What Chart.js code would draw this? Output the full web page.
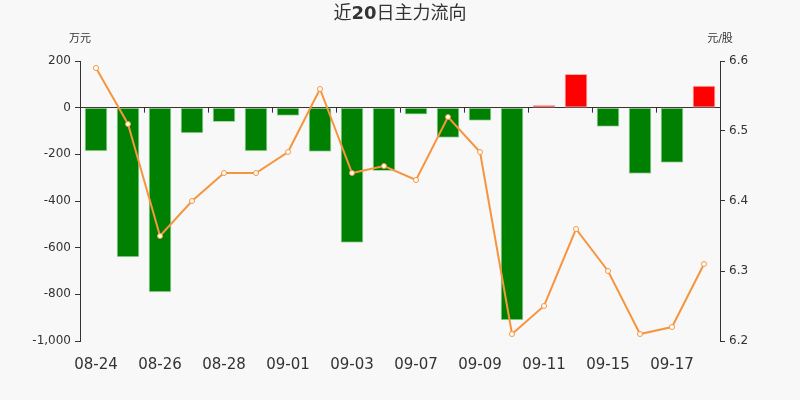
<!DOCTYPE html>
<html>
<head>
<meta charset="utf-8">
<script src="https://cdn.jsdelivr.net/npm/chart.js@4"></script>
<style>
  html, body { margin: 0; padding: 0; background: #f8f8f8; }
  #wrap { width: 800px; height: 400px; position: relative; }
</style>
</head>
<body>
<div id="wrap"><canvas id="c" width="800" height="400"></canvas></div>
<script>
const dates = ["08-24", "08-25", "08-26", "08-27", "08-28", "08-31", "09-01", "09-02", "09-03", "09-04",
  "09-07", "09-08", "09-09", "09-10", "09-11", "09-14", "09-15", "09-16", "09-17", "09-18"];
// 主力净流入 (万元)
const flow = [-185, -640, -790, -108, -60, -185, -33, -188, -578, -270,
  -28, -128, -55, -910, 10, 143, -80, -282, -235, 92];
// 收盘价 (元/股)
const price = [6.59, 6.51, 6.35, 6.40, 6.44, 6.44, 6.47, 6.56, 6.44, 6.45,
  6.43, 6.52, 6.47, 6.21, 6.25, 6.36, 6.30, 6.21, 6.22, 6.31];

const FONT = "'DejaVu Sans', 'Noto Sans CJK SC', sans-serif";
const TXT = "#333";

// 标题、单位、零轴刻度
const extras = {
  id: "extras",
  afterDraw(chart) {
    const ctx = chart.ctx;
    const area = chart.chartArea;
    ctx.save();
    // title with bold "20"
    const parts = [["近", "normal"], ["20", "bold"], ["日主力流向", "normal"]];
    ctx.textBaseline = "middle";
    ctx.fillStyle = TXT;
    let w = 0;
    parts.forEach(p => { ctx.font = p[1] + " 18px " + FONT; w += ctx.measureText(p[0]).width; });
    let x = 400 - w / 2;
    parts.forEach(p => {
      ctx.font = p[1] + " 18px " + FONT;
      ctx.textAlign = "left";
      ctx.fillText(p[0], x, 14);
      x += ctx.measureText(p[0]).width;
    });
    ctx.font = "11px " + FONT;
    ctx.textAlign = "center";
    ctx.fillText("万元", area.left, 39);
    ctx.fillText("元/股", area.right, 39);
    // small ticks on zero axis
    const y0 = chart.scales.y.getPixelForValue(0);
    const step = (area.right - area.left) / dates.length;
    ctx.strokeStyle = TXT;
    ctx.lineWidth = 1;
    for (let i = 2; i < dates.length; i += 2) {
      const px = Math.round(area.left + i * step) + 0.5;
      ctx.beginPath();
      ctx.moveTo(px, y0);
      ctx.lineTo(px, y0 + 5);
      ctx.stroke();
    }
    ctx.restore();
  }
};

new Chart(document.getElementById("c"), {
  data: {
    labels: dates,
    datasets: [
      {
        type: "line",
        label: "价格",
        data: price,
        yAxisID: "y1",
        borderColor: "#f7953f",
        borderWidth: 2,
        tension: 0,
        pointRadius: 2.5,
        pointBackgroundColor: "#fff",
        pointBorderColor: "#f7953f",
        pointBorderWidth: 1,
        order: 1
      },
      {
        type: "bar",
        label: "主力净流入",
        data: flow,
        yAxisID: "y",
        backgroundColor: flow.map(v => v >= 0 ? "#ff0000" : "#008000"),
        borderColor: flow.map(v => v >= 0 ? "#ffb0b0" : "#a8d8a8"),
        borderWidth: 1,
        borderSkipped: false,
        barThickness: 22,
        order: 2
      }
    ]
  },
  options: {
    responsive: false,
    animation: false,
    devicePixelRatio: 1,
    layout: { padding: { top: 61, left: 0, right: 0, bottom: 0 } },
    plugins: { legend: { display: false }, tooltip: { enabled: false } },
    scales: {
      x: {
        grid: { display: false },
        border: { display: false },
        afterFit: s => { s.height = 59; },
        ticks: {
          autoSkip: false,
          maxRotation: 0,
          padding: 7,
          color: TXT,
          font: { family: FONT, size: 15 },
          callback: (v, i) => i % 2 === 0 ? dates[i] : ""
        }
      },
      y: {
        position: "left",
        min: -1000,
        max: 200,
        afterFit: s => { s.width = 80; },
        border: { display: true, color: TXT },
        grid: {
          color: c => c.tick && c.tick.value === 0 ? TXT : "rgba(0,0,0,0)",
          tickColor: TXT,
          tickLength: 5
        },
        ticks: {
          stepSize: 200,
          padding: 4,
          color: TXT,
          font: { family: FONT, size: 12 }
        }
      },
      y1: {
        position: "right",
        min: 6.2,
        max: 6.6,
        afterFit: s => { s.width = 80; },
        border: { display: true, color: TXT },
        grid: { drawOnChartArea: false, tickColor: TXT, tickLength: 5 },
        ticks: {
          stepSize: 0.1,
          padding: 4,
          color: TXT,
          font: { family: FONT, size: 12 },
          callback: v => v.toFixed(1)
        }
      }
    }
  },
  plugins: [extras]
});
</script>
</body>
</html>
